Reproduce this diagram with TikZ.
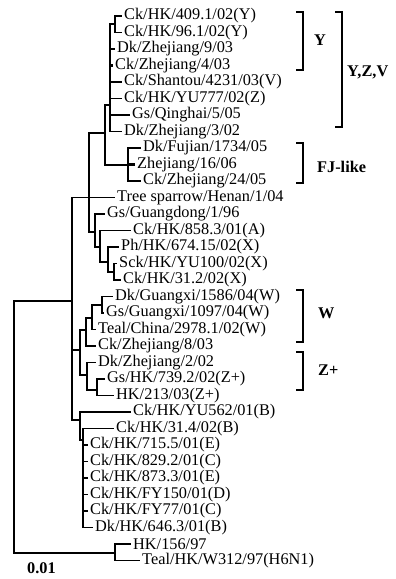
\documentclass[tikz,border=0pt]{standalone}
\usepackage{fontspec}
\setmainfont{Liberation Serif}
\usepackage{tikz}

\begin{document}
\begin{tikzpicture}[x=1pt, y=-1pt,
    every node/.style={font=\fontsize{16.3}{17}\selectfont},
    leaf/.style={anchor=west, inner sep=3pt},
    branch/.style={line width=1.5pt, line cap=rect},
    heavy/.style={line width=2.3pt, line cap=rect},
    bracket/.style={line width=2.2pt},
    clade/.style={anchor=west, inner sep=0pt, font=\fontsize{16.3}{17}\selectfont\bfseries}]
    \useasboundingbox (0,0) rectangle (396,579);

        % Strain names
        \node[leaf] (l1) at (121,16) {Ck/HK/409.1/02(Y)};
        \node[leaf] (l2) at (121,32.5) {Ck/HK/96.1/02(Y)};
        \node[leaf] (l3) at (114,49) {Dk/Zhejiang/9/03};
        \node[leaf] (l4) at (112,65.5) {Ck/Zhejiang/4/03};
        \node[leaf] (l5) at (121,82) {Ck/Shantou/4231/03(V)};
        \node[leaf] (l6) at (121,98.5) {Ck/HK/YU777/02(Z)};
        \node[leaf] (l7) at (129,115) {Gs/Qinghai/5/05};
        \node[leaf] (l8) at (121,131.5) {Dk/Zhejiang/3/02};
        \node[leaf] (l9) at (140,148) {Dk/Fujian/1734/05};
        \node[leaf] (l10) at (134,164.5) {Zhejiang/16/06};
        \node[leaf] (l11) at (140,181) {Ck/Zhejiang/24/05};
        \node[leaf] (l12) at (114,197.5) {Tree sparrow/Henan/1/04};
        \node[leaf] (l13) at (104,214) {Gs/Guangdong/1/96};
        \node[leaf] (l14) at (130,230.5) {Ck/HK/858.3/01(A)};
        \node[leaf] (l15) at (118,247) {Ph/HK/674.15/02(X)};
        \node[leaf] (l16) at (116,263.5) {Sck/HK/YU100/02(X)};
        \node[leaf] (l17) at (120,280) {Ck/HK/31.2/02(X)};
        \node[leaf] (l18) at (112,296.5) {Dk/Guangxi/1586/04(W)};
        \node[leaf] (l19) at (103,313) {Gs/Guangxi/1097/04(W)};
        \node[leaf] (l20) at (95,329.5) {Teal/China/2978.1/02(W)};
        \node[leaf] (l21) at (95,346) {Ck/Zhejiang/8/03};
        \node[leaf] (l22) at (95,362.5) {Dk/Zhejiang/2/02};
        \node[leaf] (l23) at (104,379) {Gs/HK/739.2/02(Z+)};
        \node[leaf] (l24) at (113,395.5) {HK/213/03(Z+)};
        \node[leaf] (l25) at (130,412) {Ck/HK/YU562/01(B)};
        \node[leaf] (l26) at (113,428.5) {Ck/HK/31.4/02(B)};
        \node[leaf] (l27) at (87,445) {Ck/HK/715.5/01(E)};
        \node[leaf] (l28) at (87,461.5) {Ck/HK/829.2/01(C)};
        \node[leaf] (l29) at (87,478) {Ck/HK/873.3/01(E)};
        \node[leaf] (l30) at (87,494.5) {Ck/HK/FY150/01(D)};
        \node[leaf] (l31) at (87,511) {Ck/HK/FY77/01(C)};
        \node[leaf] (l32) at (92,527.5) {Dk/HK/646.3/01(B)};
        \node[leaf] (l33) at (130,544) {HK/156/97};
        \node[leaf] (l34) at (139,560.5) {Teal/HK/W312/97(H6N1)};

        % Internal nodes
        \coordinate (root) at (14,420);
        \coordinate (a) at (72,301);
        \coordinate (b) at (89,197.5);
        \coordinate (c) at (105,133);
        \coordinate (d) at (110,105);
        \coordinate (p) at (115,24);
        \coordinate (n) at (128,165);
        \coordinate (f) at (95,232);
        \coordinate (g) at (100,247);
        \coordinate (q) at (108,262);
        \coordinate (r) at (114,272);
        \coordinate (h) at (80,350);
        \coordinate (i) at (86,330);
        \coordinate (k) at (92,318);
        \coordinate (w) at (102,305);
        \coordinate (j) at (87,375);
        \coordinate (m) at (97,390);
        \coordinate (bb) at (80,420);
        \coordinate (bc) at (83,440);
        \coordinate (o) at (115,553);

        % Branches
        \draw[branch] (root) |- (a);
        \draw[branch] (root) |- (o);
        \draw[branch] (a) |- (b);
        \draw[branch] (a) |- (h);
        \draw[branch] (a) |- (bb);
        \draw[heavy] (b) |- (c);
        \draw[branch] (b) |- (l12.west);
        \draw[branch] (b) |- (f);
        \draw[branch] (c) |- (d);
        \draw[branch] (c) |- (n);
        \draw[heavy] (d) |- (p);
        \draw[branch] (p) |- (l1.west);
        \draw[branch] (p) |- (l2.west);
        \draw[heavy] (d) |- (l3.west);
        \draw[heavy] (d) |- (l4.west);
        \draw[branch] (d) |- (l5.west);
        \draw[branch] (d) |- (l6.west);
        \draw[branch] (d) |- (l7.west);
        \draw[branch] (d) |- (l8.west);
        \draw[branch] (n) |- (l9.west);
        \draw[heavy] (n) |- (l10.west);
        \draw[branch] (n) |- (l11.west);
        \draw[branch] (f) |- (l13.west);
        \draw[branch] (f) |- (g);
        \draw[branch] (g) |- (l14.west);
        \draw[branch] (g) |- (q);
        \draw[branch] (q) |- (l15.west);
        \draw[branch] (q) |- (r);
        \draw[branch] (r) |- (l16.west);
        \draw[branch] (r) |- (l17.west);
        \draw[branch] (h) |- (i);
        \draw[branch] (h) |- (j);
        \draw[branch] (i) |- (k);
        \draw[branch] (i) |- (l21.west);
        \draw[branch] (k) |- (w);
        \draw[branch] (k) |- (l20.west);
        \draw[branch] (w) |- (l18.west);
        \draw[branch] (w) |- (l19.west);
        \draw[branch] (j) |- (l22.west);
        \draw[branch] (j) |- (m);
        \draw[branch] (m) |- (l23.west);
        \draw[branch] (m) |- (l24.west);
        \draw[branch] (bb) |- (l25.west);
        \draw[branch] (bb) |- (bc);
        \draw[branch] (bc) |- (l26.west);
        \draw[branch] (bc) |- (l27.west);
        \draw[branch] (bc) |- (l28.west);
        \draw[branch] (bc) |- (l29.west);
        \draw[branch] (bc) |- (l30.west);
        \draw[branch] (bc) |- (l31.west);
        \draw[branch] (bc) |- (l32.west);
        \draw[branch] (o) |- (l33.west);
        \draw[branch] (o) |- (l34.west);

        % Clade brackets
        \draw[bracket] (296,12) -- (303,12) -- (303,70) -- (296,70);
        \node[clade] (cy) at (314,40) {Y};
        \draw[bracket] (335,12) -- (342,12) -- (342,127) -- (335,127);
        \node[clade] (cyzv) at (347,72) {Y,Z,V};
        \draw[bracket] (296,143) -- (303,143) -- (303,183) -- (296,183);
        \node[clade] (cfj) at (317,167) {FJ-like};
        \draw[bracket] (296,290) -- (303,290) -- (303,342) -- (296,342);
        \node[clade] (cw) at (318,313) {W};
        \draw[bracket] (296,352) -- (303,352) -- (303,390) -- (296,390);
        \node[clade] (cz) at (318,370) {Z+};

        \node[clade] (scale) at (27,568) {0.01};
    \end{tikzpicture}
\end{document}
